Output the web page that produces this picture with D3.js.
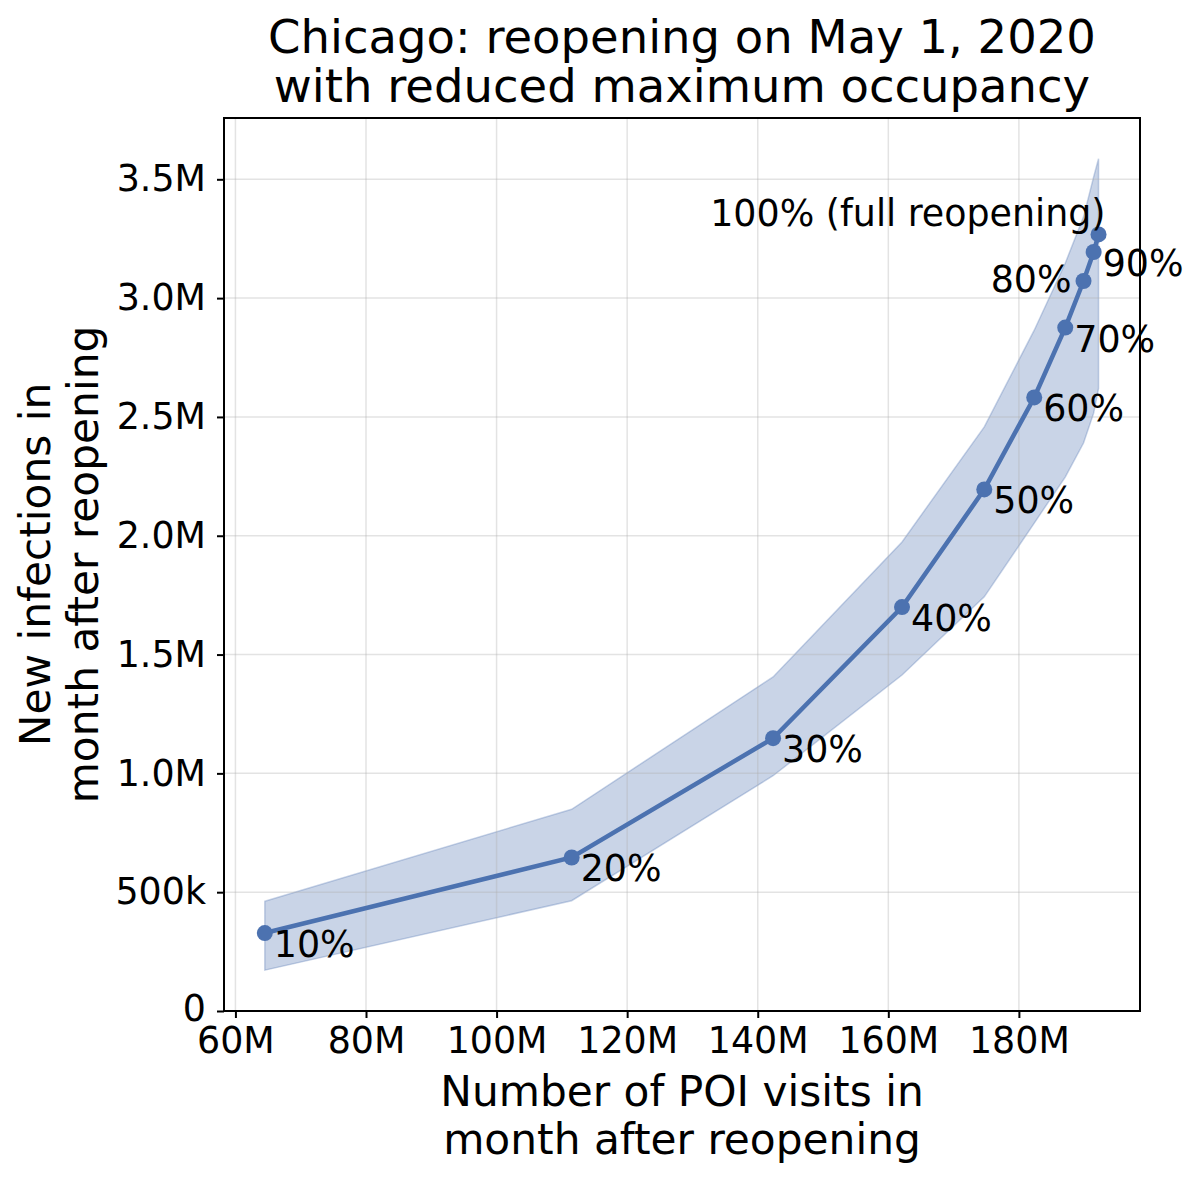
<!DOCTYPE html>
<html>
<head>
<meta charset="utf-8">
<script src="https://cdn.jsdelivr.net/npm/d3@7"></script>
<style>
  html, body { margin: 0; padding: 0; background: #fff; }
  svg { display: block; font-family: "DejaVu Sans", sans-serif; }
</style>
</head>
<body>
<div id="chart"></div>
<script>
// reopening levels (share of max occupancy kept)
var levelLabels = ["10%", "20%", "30%", "40%", "50%", "60%", "70%", "80%", "90%", "100% (full reopening)"];
// POI visits in the month after reopening
var visits = [64.5e6, 111.5e6, 142.35e6, 162.1e6, 174.7e6, 182.35e6, 187.1e6, 189.9e6, 191.45e6, 192.2e6];
// new infections, mean and band
var infections = [0.328e6, 0.646e6, 1.148e6, 1.70e6, 2.195e6, 2.582e6, 2.876e6, 3.072e6, 3.194e6, 3.268e6];
var infectionsHigh = [0.462e6, 0.849e6, 1.406e6, 1.974e6, 2.458e6, 2.865e6, 3.147e6, 3.342e6, 3.51e6, 3.587e6];
var infectionsLow = [0.172e6, 0.464e6, 0.99e6, 1.414e6, 1.743e6, 2.053e6, 2.247e6, 2.39e6, 2.516e6, 2.62e6];

var xTicks = [60e6, 80e6, 100e6, 120e6, 140e6, 160e6, 180e6];
var xTickLabels = ["60M", "80M", "100M", "120M", "140M", "160M", "180M"];
var yTicks = [0, 0.5e6, 1.0e6, 1.5e6, 2.0e6, 2.5e6, 3.0e6, 3.5e6];
var yTickLabels = ["0", "500k", "1.0M", "1.5M", "2.0M", "2.5M", "3.0M", "3.5M"];

var W = 1200, H = 1178;
var margin = { top: 118, right: 60, bottom: 167, left: 224 };
var width = W - margin.left - margin.right;
var height = H - margin.top - margin.bottom;

var blue = "#4c72b0";
var tickFont = 36.4;
var axisFont = 42.3;
var titleFont = 46.5;

var svg = d3.select("#chart").append("svg")
  .attr("width", W)
  .attr("height", H);

var g = svg.append("g")
  .attr("transform", "translate(" + margin.left + "," + margin.top + ")");

var x = d3.scaleLinear().domain([58.25e6, 198.55e6]).range([0, width]);
var y = d3.scaleLinear().domain([0, 3.758e6]).range([height, 0]);

var pts = visits.map(function(v, i) {
  return { x: v, y: infections[i], hi: infectionsHigh[i], lo: infectionsLow[i], label: levelLabels[i] };
});

// uncertainty band
var area = d3.area()
  .x(function(d) { return x(d.x); })
  .y0(function(d) { return y(d.lo); })
  .y1(function(d) { return y(d.hi); });

g.append("path")
  .datum(pts)
  .attr("d", area)
  .style("fill", blue)
  .style("fill-opacity", 0.3)
  .style("stroke", blue)
  .style("stroke-opacity", 0.3)
  .style("stroke-width", 1.5);

// grid
g.append("g")
  .selectAll("line")
  .data(xTicks)
  .enter().append("line")
  .attr("x1", function(d) { return x(d); })
  .attr("x2", function(d) { return x(d); })
  .attr("y1", 0)
  .attr("y2", height)
  .style("stroke", "#b0b0b0")
  .style("stroke-opacity", 0.35)
  .style("stroke-width", 1.5);

g.append("g")
  .selectAll("line")
  .data(yTicks)
  .enter().append("line")
  .attr("x1", 0)
  .attr("x2", width)
  .attr("y1", function(d) { return y(d); })
  .attr("y2", function(d) { return y(d); })
  .style("stroke", "#b0b0b0")
  .style("stroke-opacity", 0.35)
  .style("stroke-width", 1.5);

// mean line + markers
var line = d3.line()
  .x(function(d) { return x(d.x); })
  .y(function(d) { return y(d.y); });

g.append("path")
  .datum(pts)
  .attr("d", line)
  .style("fill", "none")
  .style("stroke", blue)
  .style("stroke-width", 4.5);

g.selectAll(".dot")
  .data(pts)
  .enter().append("circle")
  .attr("class", "dot")
  .attr("cx", function(d) { return x(d.x); })
  .attr("cy", function(d) { return y(d.y); })
  .attr("r", 8)
  .style("fill", blue);

// point labels; 80% and 100% sit to the left
g.selectAll(".lbl")
  .data(pts)
  .enter().append("text")
  .attr("class", "lbl")
  .attr("x", function(d, i) {
    if (i == 7) return x(d.x) - 12;
    if (i == 9) return x(d.x) + 7;
    return x(d.x) + 9;
  })
  .attr("y", function(d, i) {
    if (i == 7) return y(d.y) + 11;
    if (i == 9) return y(d.y) - 8;
    return y(d.y) + 24;
  })
  .style("text-anchor", function(d, i) { return (i == 7 || i == 9) ? "end" : "start"; })
  .style("font-size", tickFont + "px")
  .style("fill", "#000")
  .text(function(d) { return d.label; });

// axes
var xAxis = g.append("g")
  .attr("transform", "translate(0," + height + ")")
  .call(d3.axisBottom(x).tickValues(xTicks).tickSize(7).tickPadding(9)
    .tickFormat(function(d, i) { return xTickLabels[i]; }));

var yAxis = g.append("g")
  .call(d3.axisLeft(y).tickValues(yTicks).tickSize(7).tickPadding(11)
    .tickFormat(function(d, i) { return yTickLabels[i]; }));

[xAxis, yAxis].forEach(function(a) {
  a.select(".domain").remove();
  a.selectAll(".tick line").style("stroke", "#000").style("stroke-width", 2);
  a.selectAll(".tick text")
    .style("font-family", "DejaVu Sans, sans-serif")
    .style("font-size", tickFont + "px")
    .style("fill", "#000");
});
// keep the "0" label clear of "60M"
yAxis.selectAll(".tick text").filter(function(d) { return d === 0; }).attr("dy", "0.25em");

// frame
g.append("rect")
  .attr("x", 0)
  .attr("y", 0)
  .attr("width", width)
  .attr("height", height)
  .style("fill", "none")
  .style("stroke", "#000")
  .style("stroke-width", 2);

// title
var cx = margin.left + width / 2;
svg.append("text")
  .attr("x", cx)
  .attr("y", 53)
  .style("text-anchor", "middle")
  .style("font-size", titleFont + "px")
  .text("Chicago: reopening on May 1, 2020");
svg.append("text")
  .attr("x", cx)
  .attr("y", 102)
  .style("text-anchor", "middle")
  .style("font-size", titleFont + "px")
  .text("with reduced maximum occupancy");

// x label
svg.append("text")
  .attr("x", cx)
  .attr("y", 1106)
  .style("text-anchor", "middle")
  .style("font-size", axisFont + "px")
  .text("Number of POI visits in");
svg.append("text")
  .attr("x", cx)
  .attr("y", 1154)
  .style("text-anchor", "middle")
  .style("font-size", axisFont + "px")
  .text("month after reopening");

// y label
var cy = margin.top + height / 2;
svg.append("text")
  .attr("transform", "translate(50," + cy + ") rotate(-90)")
  .style("text-anchor", "middle")
  .style("font-size", axisFont + "px")
  .text("New infections in");
svg.append("text")
  .attr("transform", "translate(98," + cy + ") rotate(-90)")
  .style("text-anchor", "middle")
  .style("font-size", axisFont + "px")
  .text("month after reopening");
</script>
</body>
</html>
